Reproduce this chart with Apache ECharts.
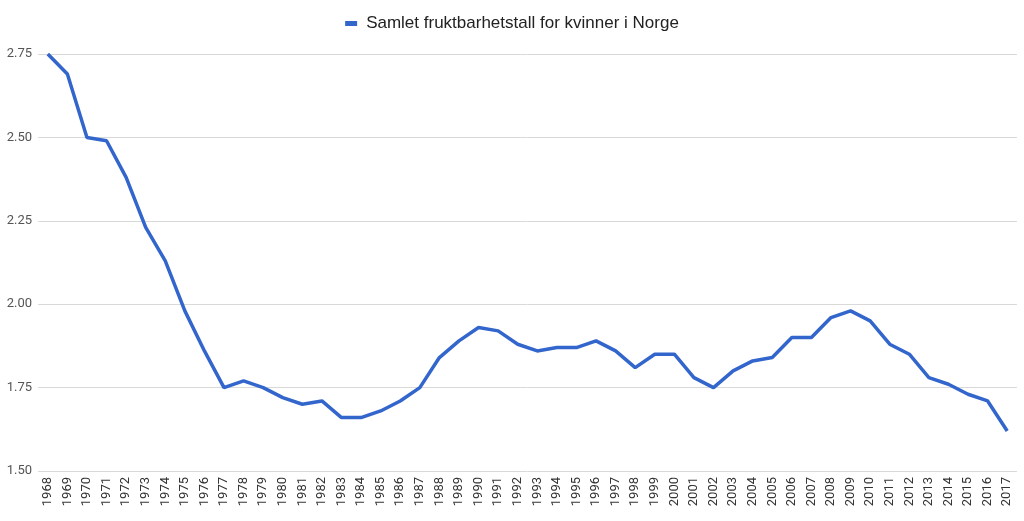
<!DOCTYPE html>
<html><head><meta charset="utf-8">
<script src="https://cdn.jsdelivr.net/npm/echarts@6/dist/echarts.min.js"></script>
<style>html,body{margin:0;padding:0;background:#fff}#c{width:1024px;height:521px}</style>
</head><body><div id="c"></div>
<script>
const years = [];
for (let y = 1968; y <= 2017; y++) years.push(String(y));
const tfr = [2.75,2.69,2.50,2.49,2.38,2.23,2.13,1.98,1.86,1.75,1.77,1.75,1.72,1.70,1.71,1.66,1.66,1.68,1.71,1.75,1.84,1.89,1.93,1.92,1.88,1.86,1.87,1.87,1.89,1.86,1.81,1.85,1.85,1.78,1.75,1.80,1.83,1.84,1.90,1.90,1.96,1.98,1.95,1.88,1.85,1.78,1.76,1.73,1.71,1.62];
const seriesName = 'Samlet fruktbarhetstall for kvinner i Norge';
const chart = echarts.init(document.getElementById('c'));
chart.setOption({
  animation: false,
  legend: {
    top: 10, left: 'center', itemWidth: 12, itemHeight: 5, itemGap: 8,
    icon: 'rect',
    textStyle: {fontFamily: 'Liberation Sans', fontSize: 17, color: '#222', padding: [0, 0, 0, 4]},
    data: [seriesName]
  },
  grid: {left: 38, right: 7, top: 54, bottom: 50},
  xAxis: {
    type: 'category', data: years, boundaryGap: true,
    axisLine: {show: false}, axisTick: {show: false},
    axisLabel: {rotate: 90, interval: 0, margin: 6, fontFamily: 'Roboto', fontSize: 13, color: '#333'}
  },
  yAxis: {
    type: 'value', min: 1.5, max: 2.75, interval: 0.25,
    axisLine: {show: false}, axisTick: {show: false},
    splitLine: {lineStyle: {color: '#d9d9d9', width: 1}},
    axisLabel: {margin: 6, fontFamily: 'Roboto', fontSize: 13, color: '#555', formatter: v => v.toFixed(2)}
  },
  series: [{
    name: seriesName, type: 'line', data: tfr, symbol: 'none',
    lineStyle: {color: '#3366cc', width: 3.5}, itemStyle: {color: '#3366cc'}
  }]
});
</script></body></html>
